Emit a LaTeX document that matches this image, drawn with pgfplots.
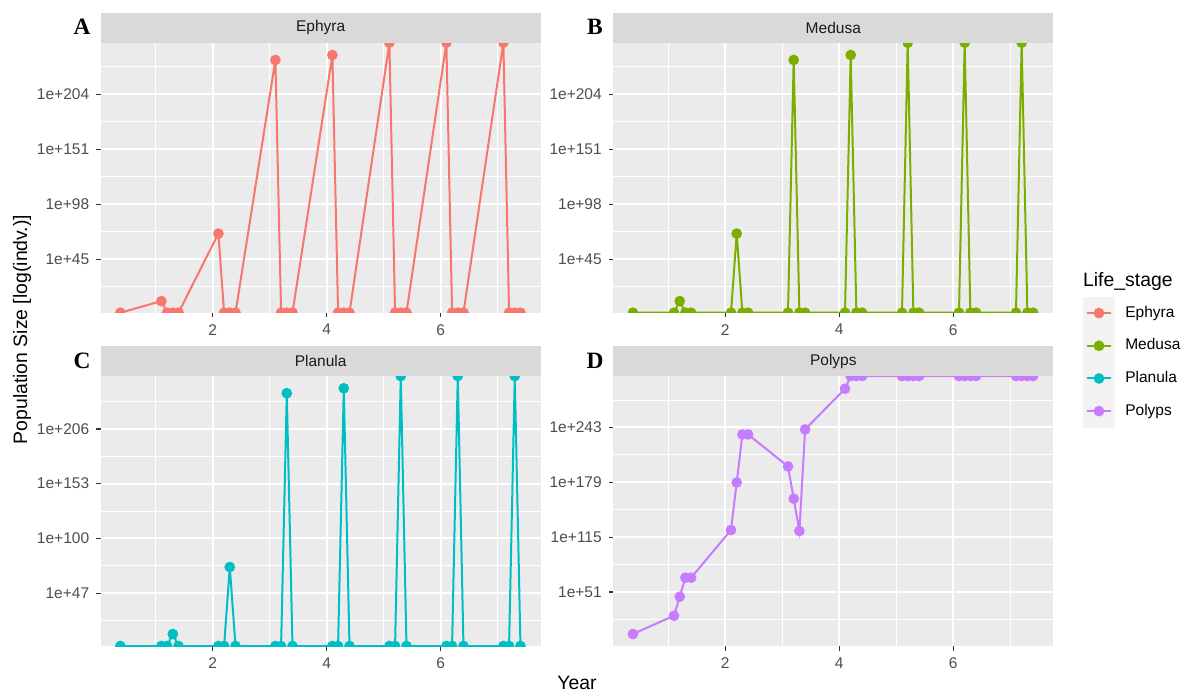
\documentclass[border=0pt]{standalone}
\usepackage{fontspec}
\setmainfont{Liberation Sans}
\newfontfamily\lserif{Liberation Serif}
\usepackage{pgfplots}
\pgfplotsset{compat=1.18}

\definecolor{ephyra}{HTML}{F8766D}
\definecolor{medusa}{HTML}{7CAE00}
\definecolor{planula}{HTML}{00BFC4}
\definecolor{polyps}{HTML}{C77CFF}
\definecolor{panelbg}{HTML}{EBEBEB}
\definecolor{stripbg}{HTML}{D9D9D9}
\definecolor{keybg}{HTML}{F2F2F2}
\definecolor{gray30}{HTML}{4D4D4D}
\definecolor{gray20}{HTML}{333333}
\definecolor{gray10}{HTML}{1A1A1A}

\pgfplotsset{
  facet/.style={
    width=220pt, height=135pt, scale only axis,
    anchor=north west,
    xmin=0.035, xmax=7.755,
    xtick={2,4,6}, xticklabels={2,4,6},
    minor xtick={1,3,5,7},
    grid=both,
    major grid style={white, line width=1pt},
    minor grid style={white, line width=0.5pt},
    axis background/.style={fill=panelbg},
    axis line style={draw=none},
    tick align=outside, tick pos=left,
    major tick length=2.25pt, minor tick length=0pt,
    tick style={gray20, line width=0.55pt},
    ticklabel style={font=\fontsize{7.75}{9}\selectfont, text=gray30},
    clip marker paths=true,
    every axis title shift=0pt,
    title style={fill=stripbg, minimum width=220pt, minimum height=15pt,
      inner sep=0pt, outer sep=0pt, anchor=south, at={(0.5,1)}, yshift=0pt,
      font=\fontsize{7.75}{9}\selectfont, text=gray10},
  },
  ser/.style={color=#1, line width=1pt, mark=*, mark size=2.15pt,
    mark options={draw=none, fill=#1, solid}},
}

\begin{document}
\begin{tikzpicture}
\useasboundingbox (0pt,0pt) rectangle (591pt,-345.5pt);

% A: Ephyra
\begin{axis}[facet, at={(50.35pt,-21.35pt)}, title={Ephyra},
  ymin=-6.8, ymax=253.9,
  ytick={45,98,151,204}, yticklabels={1e+45,1e+98,1e+151,1e+204},
  minor ytick={18.5,71.5,124.5,177.5,230.5}]
\addplot[ser=ephyra] coordinates {
  (0.38,-6.8) (1.1,4.4) (1.2,-6.8) (1.3,-6.8) (1.4,-6.8)
  (2.1,69.6) (2.2,-6.8) (2.3,-6.8) (2.4,-6.8)
  (3.1,237.2) (3.2,-6.8) (3.3,-6.8) (3.4,-6.8)
  (4.1,242) (4.2,-6.8) (4.3,-6.8) (4.4,-6.8)
  (5.1,253.9) (5.2,-6.8) (5.3,-6.8) (5.4,-6.8)
  (6.1,253.9) (6.2,-6.8) (6.3,-6.8) (6.4,-6.8)
  (7.1,253.9) (7.2,-6.8) (7.3,-6.8) (7.4,-6.8)
};
\end{axis}

% B: Medusa
\begin{axis}[facet, at={(306.65pt,-21.35pt)}, title={Medusa},
  ymin=-6.8, ymax=253.9,
  ytick={45,98,151,204}, yticklabels={1e+45,1e+98,1e+151,1e+204},
  minor ytick={18.5,71.5,124.5,177.5,230.5}]
\addplot[ser=medusa] coordinates {
  (0.38,-6.8) (1.1,-6.8) (1.2,4.4) (1.3,-6.8) (1.4,-6.8)
  (2.1,-6.8) (2.2,69.6) (2.3,-6.8) (2.4,-6.8)
  (3.1,-6.8) (3.2,237.2) (3.3,-6.8) (3.4,-6.8)
  (4.1,-6.8) (4.2,242) (4.3,-6.8) (4.4,-6.8)
  (5.1,-6.8) (5.2,253.9) (5.3,-6.8) (5.4,-6.8)
  (6.1,-6.8) (6.2,253.9) (6.3,-6.8) (6.4,-6.8)
  (7.1,-6.8) (7.2,253.9) (7.3,-6.8) (7.4,-6.8)
};
\end{axis}

% C: Planula
\begin{axis}[facet, at={(50.35pt,-188pt)}, title={Planula},
  ymin=-4.3, ymax=257.3,
  ytick={47,100,153,206}, yticklabels={1e+47,1e+100,1e+153,1e+206},
  minor ytick={20.5,73.5,126.5,179.5,232.5}]
\addplot[ser=planula] coordinates {
  (0.38,-4.3) (1.1,-4.3) (1.2,-4.3) (1.3,7.3) (1.4,-4.3)
  (2.1,-4.3) (2.2,-4.3) (2.3,72.2) (2.4,-4.3)
  (3.1,-4.3) (3.2,-4.3) (3.3,240.6) (3.4,-4.3)
  (4.1,-4.3) (4.2,-4.3) (4.3,245.4) (4.4,-4.3)
  (5.1,-4.3) (5.2,-4.3) (5.3,257.3) (5.4,-4.3)
  (6.1,-4.3) (6.2,-4.3) (6.3,257.3) (6.4,-4.3)
  (7.1,-4.3) (7.2,-4.3) (7.3,257.3) (7.4,-4.3)
};
\end{axis}

% D: Polyps
\begin{axis}[facet, at={(306.65pt,-188pt)}, title={Polyps},
  ymin=-12, ymax=303,
  ytick={51,115,179,243}, yticklabels={1e+51,1e+115,1e+179,1e+243},
  minor ytick={19,83,147,211,275},
  legend style={name=leg, at={(1.0668,1.2937)}, anchor=north west,
    draw=none, fill=none, inner sep=0pt, outer sep=0pt,
    row sep=0pt, column sep=5pt,
    nodes={inner sep=0pt, outer sep=0pt},
    font=\fontsize{7.75}{9}\selectfont},
  legend cell align=left,
  legend image code/.code={
    \fill[keybg] (0pt,-7.675pt) rectangle (15.3pt,7.675pt);
    \draw[#1, mark repeat=2, mark phase=2]
      plot coordinates {(1.65pt,0pt) (7.65pt,0pt) (13.65pt,0pt)};
  }]
\addlegendimage{ser=ephyra}\addlegendentry{Ephyra}
\addlegendimage{ser=medusa}\addlegendentry{Medusa}
\addlegendimage{ser=planula}\addlegendentry{Planula}
\addplot[ser=polyps] coordinates {
  (0.38,2.0) (1.1,23.4) (1.2,45.5) (1.3,67.7) (1.4,67.7)
  (2.1,123.3) (2.2,178.8) (2.3,234.8) (2.4,234.8)
  (3.1,197.5) (3.2,159.8) (3.3,122.2) (3.4,240.7)
  (4.1,288.1) (4.2,303) (4.3,303) (4.4,303)
  (5.1,303) (5.2,303) (5.3,303) (5.4,303)
  (6.1,303) (6.2,303) (6.3,303) (6.4,303)
  (7.1,303) (7.2,303) (7.3,303) (7.4,303)
};
\addlegendentry{Polyps}
\end{axis}

% legend title
\node[anchor=base west, inner sep=0pt, font=\fontsize{9.7}{11}\selectfont]
  at ([yshift=5.35pt]leg.north west) {Life\_stage};

% panel letters
\node[anchor=base, inner sep=0pt, font=\lserif\bfseries\fontsize{11.7}{13}\selectfont] at (41pt,-17.4pt) {A};
\node[anchor=base, inner sep=0pt, font=\lserif\bfseries\fontsize{11.7}{13}\selectfont] at (297.5pt,-17.4pt) {B};
\node[anchor=base, inner sep=0pt, font=\lserif\bfseries\fontsize{11.7}{13}\selectfont] at (41pt,-184pt) {C};
\node[anchor=base, inner sep=0pt, font=\lserif\bfseries\fontsize{11.7}{13}\selectfont] at (297.5pt,-184pt) {D};

% axis titles
\node[rotate=90, inner sep=0pt, font=\fontsize{9.7}{11}\selectfont] at (11pt,-164.75pt) {Population Size [log(indv.)]};
\node[inner sep=0pt, font=\fontsize{9.7}{11}\selectfont] at (288.5pt,-341.5pt) {Year};
\end{tikzpicture}
\end{document}
